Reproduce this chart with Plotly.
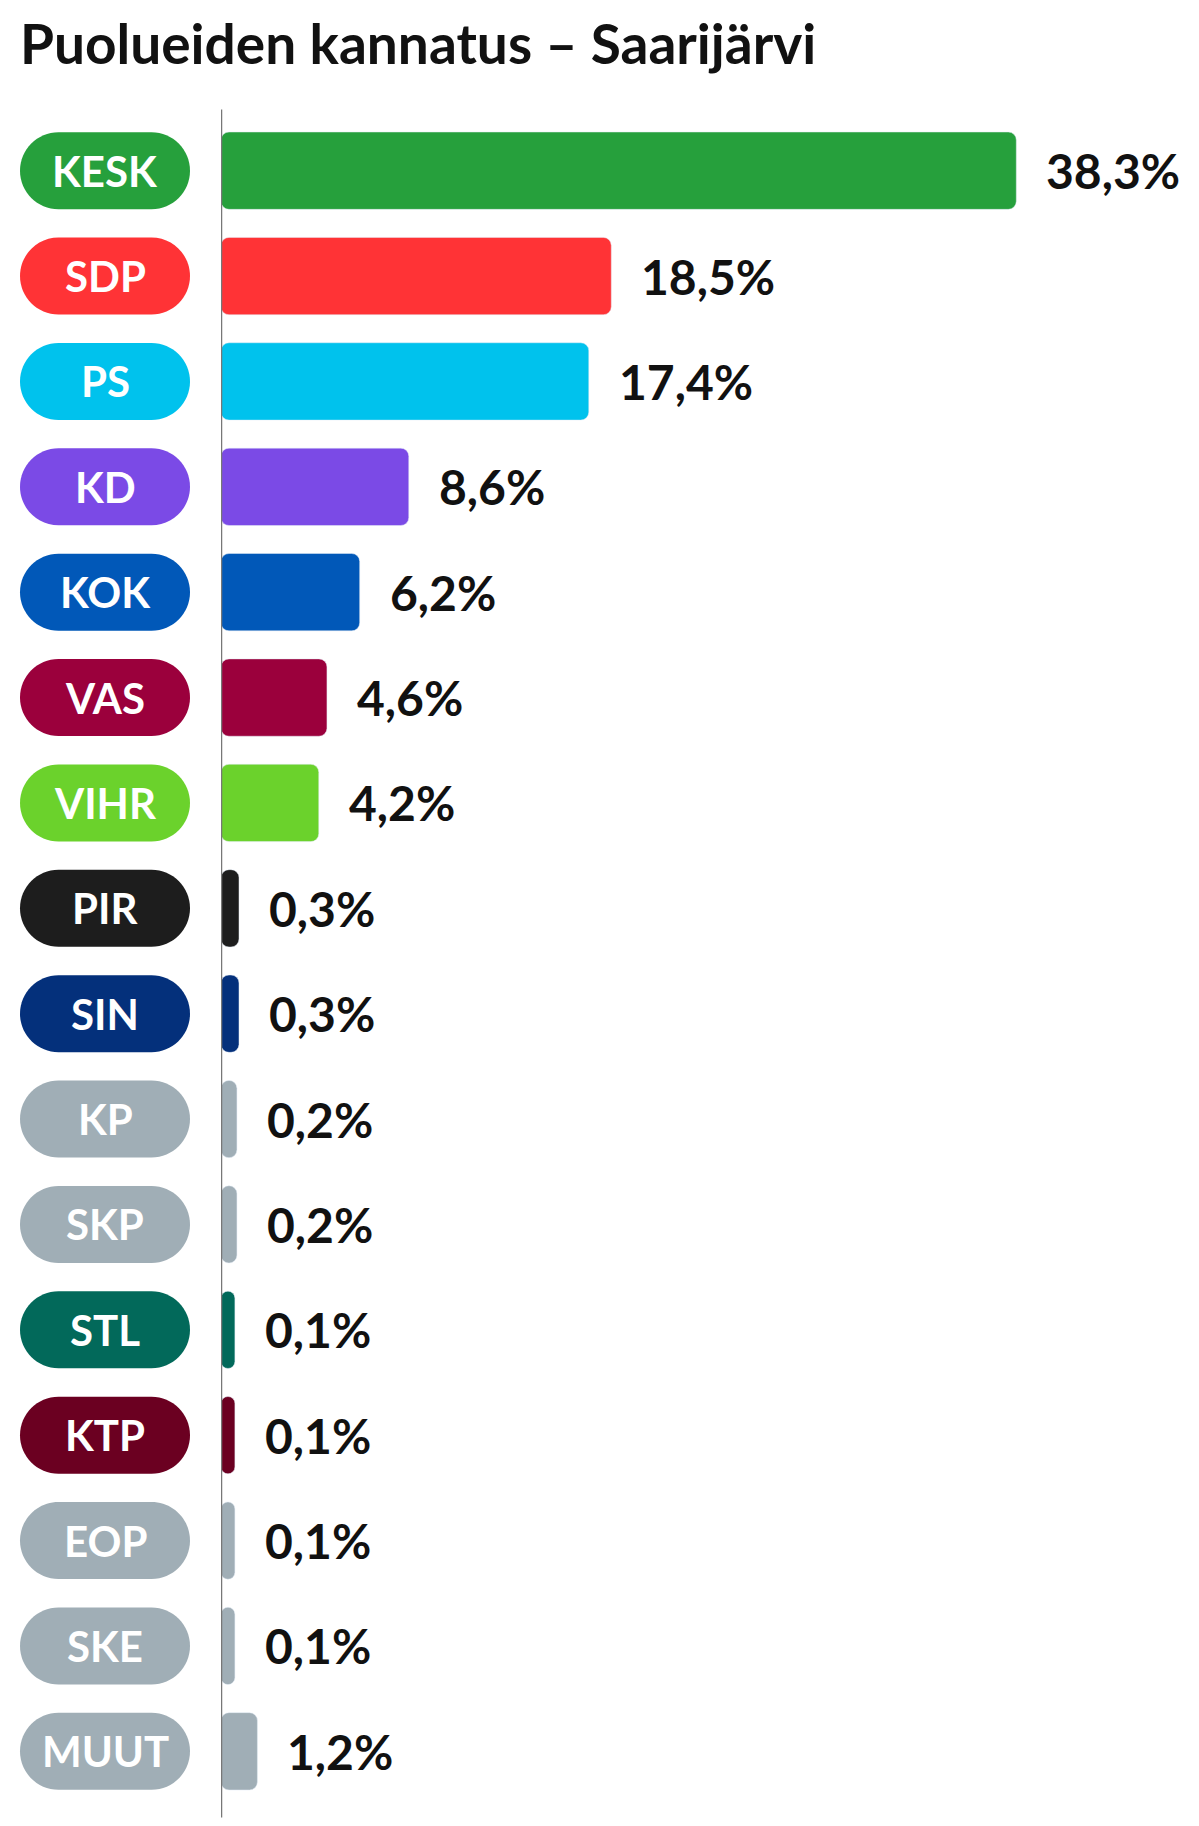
import plotly.graph_objects as go

parties = ["KESK", "SDP", "PS", "KD", "KOK", "VAS", "VIHR", "PIR", "SIN", "KP",
           "SKP", "STL", "KTP", "EOP", "SKE", "MUUT"]
support = [38.3, 18.5, 17.4, 8.6, 6.2, 4.6, 4.2, 0.3, 0.3, 0.2, 0.2, 0.1, 0.1, 0.1, 0.1, 1.2]
colors = ["#26a03c", "#ff3336", "#00c2ed", "#7b4ae6", "#0158b8", "#9b003c", "#6bd22c",
          "#1d1d1d", "#04307b", "#a0aeb6", "#a0aeb6", "#02695a", "#6b0021", "#a0aeb6",
          "#a0aeb6", "#a0aeb6"]
value_labels = [f"{v:.1f}".replace(".", ",") + "%" for v in support]

W, H = 1199, 1826
ML, MR, MT, MB = 213, 52, 110, 30
PW, PH = W - ML - MR, H - MT - MB
N = len(parties)
row = PH / N
stub = 0.58  # small visible bar start left of zero

fig = go.Figure(go.Bar(
    y=parties, x=[v + stub for v in support], base=-stub, orientation="h",
    marker=dict(color=colors, cornerradius=8), width=0.734, hoverinfo="skip",
))

shapes, annotations = [], []
px2x = lambda p: (p - ML) / PW
px2y = lambda p: 1 - (p - MT) / PH
for i, (p, c, lab, v) in enumerate(zip(parties, colors, value_labels, support)):
    cy = MT + (i + 0.5) * row
    x0, x1, h = 12, 182, 77
    r = h / 2
    y0, y1 = cy - r, cy + r
    k = 0.5523 * r
    pts = [
        f"M{px2x(x0 + r)},{px2y(y0)}", f"L{px2x(x1 - r)},{px2y(y0)}",
        f"C{px2x(x1 - r + k)},{px2y(y0)} {px2x(x1)},{px2y(cy - k)} {px2x(x1)},{px2y(cy)}",
        f"C{px2x(x1)},{px2y(cy + k)} {px2x(x1 - r + k)},{px2y(y1)} {px2x(x1 - r)},{px2y(y1)}",
        f"L{px2x(x0 + r)},{px2y(y1)}",
        f"C{px2x(x0 + r - k)},{px2y(y1)} {px2x(x0)},{px2y(cy + k)} {px2x(x0)},{px2y(cy)}",
        f"C{px2x(x0)},{px2y(cy - k)} {px2x(x0 + r - k)},{px2y(y0)} {px2x(x0 + r)},{px2y(y0)} Z",
    ]
    shapes.append(dict(type="path", xref="paper", yref="paper", path=" ".join(pts),
                       fillcolor=c, line=dict(width=0), layer="above"))
    annotations.append(dict(xref="paper", yref="paper", x=px2x((x0 + x1) / 2), y=px2y(cy),
                            text=f"<b>{p}</b>", xanchor="center", yanchor="middle",
                            showarrow=False, font=dict(size=42, color="white", family="Lato")))
    annotations.append(dict(xref="x", yref="y", x=v, y=p, text=f"<b>{lab}</b>", xanchor="left",
                            xshift=28, showarrow=False, font=dict(size=48, color="#111", family="Lato")))

shapes.append(dict(type="line", xref="x", yref="paper", x0=-stub, x1=-stub, y0=1.005, y1=-0.008,
                   line=dict(color="#777", width=2.5)))

fig.update_layout(
    width=W, height=H, margin=dict(l=ML, r=MR, t=MT, b=MB),
    plot_bgcolor="white", paper_bgcolor="white", showlegend=False,
    title=dict(text="<b>Puolueiden kannatus – Saarijärvi</b>", x=0.01, xanchor="left",
               y=0.98, yanchor="middle", font=dict(size=55, color="#111", family="Lato")),
    xaxis=dict(range=[-stub, 45.08], visible=False),
    yaxis=dict(autorange="reversed", visible=False),
    shapes=shapes, annotations=annotations,
)

fig.write_html("out.html")
